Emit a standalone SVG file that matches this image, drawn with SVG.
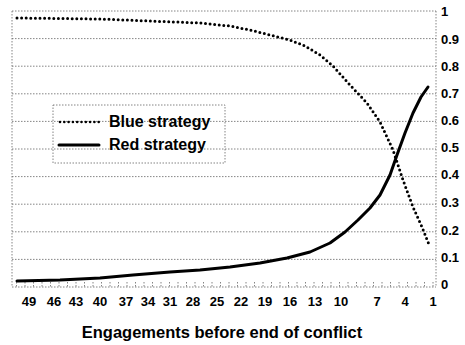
<svg xmlns="http://www.w3.org/2000/svg" width="465" height="345" viewBox="0 0 465 345">
<style>
.grid{stroke:#666;stroke-width:0.8;stroke-dasharray:1.5 1.5;fill:none}
.frame{stroke:#666;stroke-width:0.8;stroke-dasharray:1.5 1.5;fill:none}
.blue{stroke:#000;stroke-width:3;stroke-linecap:round;stroke-dasharray:0 4.6;fill:none}
.red{stroke:#000;stroke-width:3;stroke-linejoin:round;stroke-linecap:round;fill:none}
.lab{font-family:"Liberation Sans",Arial,sans-serif;font-weight:bold;font-size:13px;fill:#000}
.leg{font-family:"Liberation Sans",Arial,sans-serif;font-weight:bold;font-size:16px;fill:#000}
.ttl{font-family:"Liberation Sans",Arial,sans-serif;font-weight:bold;font-size:16.5px;fill:#000}
</style>
<rect width="465" height="345" fill="#fff"/>
<g id="grid">
<line class="grid" x1="12" y1="11" x2="436" y2="11"/>
<line class="grid" x1="12" y1="38.6" x2="436" y2="38.6"/>
<line class="grid" x1="12" y1="66.2" x2="436" y2="66.2"/>
<line class="grid" x1="12" y1="93.8" x2="436" y2="93.8"/>
<line class="grid" x1="12" y1="121.4" x2="436" y2="121.4"/>
<line class="grid" x1="12" y1="149" x2="436" y2="149"/>
<line class="grid" x1="12" y1="176.6" x2="436" y2="176.6"/>
<line class="grid" x1="12" y1="204.2" x2="436" y2="204.2"/>
<line class="grid" x1="12" y1="231.8" x2="436" y2="231.8"/>
<line class="grid" x1="12" y1="259.4" x2="436" y2="259.4"/>
<line class="frame" x1="12" y1="11" x2="12" y2="287"/>
<line class="frame" x1="436" y1="11" x2="436" y2="287"/>
<line class="frame" x1="12" y1="287" x2="436" y2="287"/>
<path class="frame" d="M16.5 282v5M25 282v5M33.5 282v5M42 282v5M50.5 282v5M59 282v5M67.5 282v5M76 282v5M84.5 282v5M93 282v5M101.5 282v5M110 282v5M118.5 282v5M127 282v5M135.5 282v5M144 282v5M152.5 282v5M161 282v5M169.5 282v5M178 282v5M186.5 282v5M195 282v5M203.5 282v5M212 282v5M220.5 282v5M229 282v5M237.5 282v5M246 282v5M254.5 282v5M263 282v5M271.5 282v5M280 282v5M288.5 282v5M297 282v5M305.5 282v5M314 282v5M322.5 282v5M331 282v5M339.5 282v5M348 282v5M356.5 282v5M365 282v5M373.5 282v5M382 282v5M390.5 282v5M399 282v5M407.5 282v5M416 282v5M424.5 282v5M433 282v5"/>
</g>
<g id="connectors">
<polyline id="blue-curve" class="blue" points="17,18 60,18.5 100,19 150,21 200,23 230,26 250,30 270,35 290,40 305,46 320,55 333,66 350,85 367,103 380,122 393,150 403,180 413,207 422,227 430,247"/>
<polyline id="red-curve" class="red" points="17,281 60,280 100,278 133,275 170,272 200,270 230,267 260,263 287,258 310,252 330,243 345,232 358,220 370,208 380,195 390,175 397,155 405,133 413,113 421,97 428,87"/>
</g>
<g id="legend">
<rect x="53" y="105" width="172" height="58" fill="#fff" class="frame"/>
<line class="blue" x1="60" y1="122" x2="99" y2="122" style="stroke-width:2.6;stroke-dasharray:0 4.3"/>
<line class="red" x1="59" y1="145" x2="99" y2="145"/>
<text class="leg" x="109" y="127">Blue strategy</text>
<text class="leg" x="109" y="150">Red strategy</text>
</g>
<g id="y-axis">
<text class="lab" x="441" y="16">1</text>
<text class="lab" x="441" y="44">0.9</text>
<text class="lab" x="441" y="71">0.8</text>
<text class="lab" x="441" y="98">0.7</text>
<text class="lab" x="441" y="125">0.6</text>
<text class="lab" x="441" y="152">0.5</text>
<text class="lab" x="441" y="179">0.4</text>
<text class="lab" x="441" y="207">0.3</text>
<text class="lab" x="441" y="235">0.2</text>
<text class="lab" x="441" y="262">0.1</text>
<text class="lab" x="441" y="289">0</text>
</g>
<g id="x-axis" text-anchor="middle">
<text class="lab" x="29" y="306">49</text>
<text class="lab" x="54" y="306">46</text>
<text class="lab" x="76" y="306">43</text>
<text class="lab" x="100" y="306">40</text>
<text class="lab" x="126" y="306">37</text>
<text class="lab" x="148" y="306">34</text>
<text class="lab" x="170" y="306">31</text>
<text class="lab" x="193" y="306">28</text>
<text class="lab" x="217" y="306">25</text>
<text class="lab" x="241" y="306">22</text>
<text class="lab" x="265" y="306">19</text>
<text class="lab" x="290" y="306">16</text>
<text class="lab" x="315" y="306">13</text>
<text class="lab" x="341" y="306">10</text>
<text class="lab" x="377" y="306">7</text>
<text class="lab" x="405" y="306">4</text>
<text class="lab" x="433" y="306">1</text>
<text class="ttl" x="222" y="338">Engagements before end of conflict</text>
</g>
</svg>
